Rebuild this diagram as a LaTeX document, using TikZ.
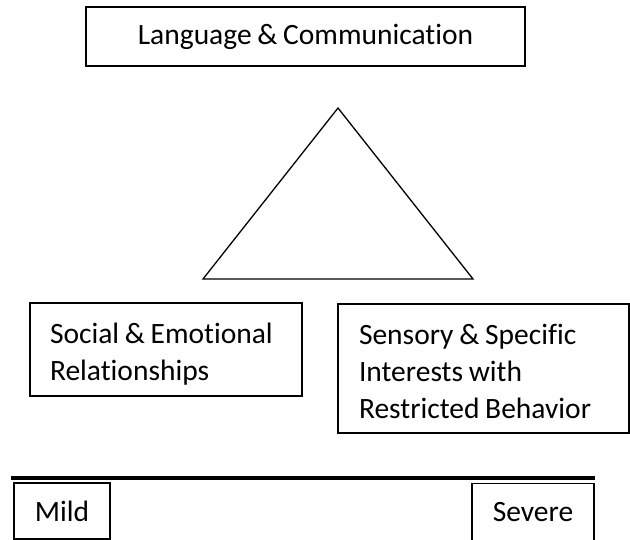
\documentclass[tikz,border=0pt]{standalone}
\usepackage{fontspec}
\setmainfont{Carlito}[Ligatures=NoCommon,WordSpace=0.85]

\begin{document}
\begin{tikzpicture}[x=1pt,y=-1pt,
    box/.style={draw,line width=1.3pt,inner sep=0pt,font=\fontsize{29.5}{37}\selectfont},
    area/.style={box,align=flush left,inner xsep=20pt}]
  \useasboundingbox (0,0) rectangle (630,540);
  \node[box,minimum width=439pt,minimum height=59pt] (lang) at (305.5,36.5) {Language \& Communication};
  \draw[line width=1.3pt] (338,108) -- (473,279) -- (203,279) -- cycle;
  \node[area,text width=232pt,text height=30pt,minimum height=93pt] (social) at (166,349.5)
    {Social \& Emotional\\Relationships};
  \node[area,inner xsep=21pt,text width=249pt,text height=26pt,minimum height=129pt] (sensory) at (483.5,368.5)
    {Sensory \& Specific\\Interests with\\Restricted Behavior};
  \coordinate (lo) at (11,478);
  \coordinate (hi) at (595,478);
  \draw[line width=4pt] (lo) -- (hi);
  \node[box,minimum width=96pt,minimum height=56pt] (mild) at (62,511) {Mild};
  \node[box,minimum width=122pt,minimum height=57pt] (severe) at (533,512) {Severe};
\end{tikzpicture}
\end{document}
